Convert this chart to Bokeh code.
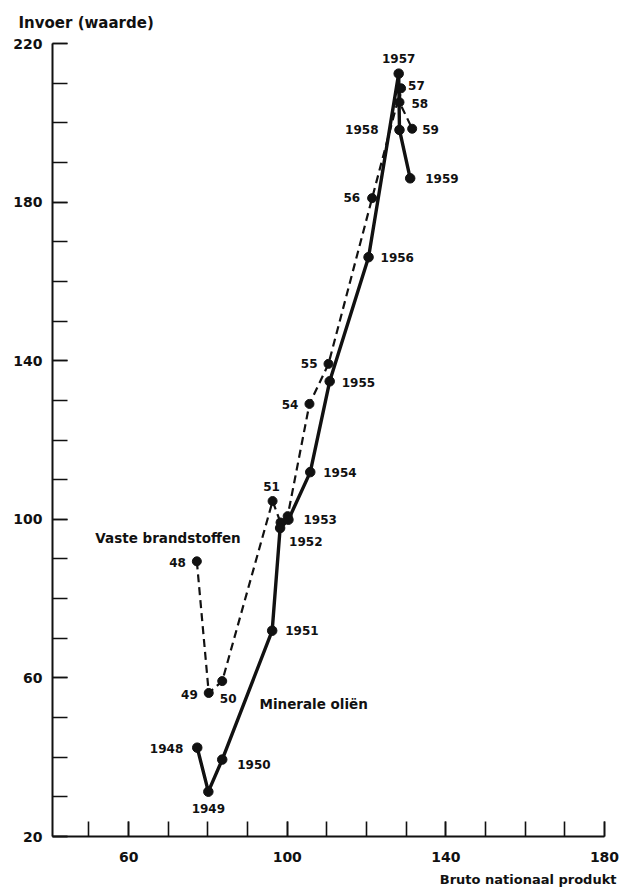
from bokeh.plotting import figure
from bokeh.models import Range1d, FixedTicker, Label, ColumnDataSource, Title
from bokeh.core.properties import value
from bokeh.embed import file_html
from bokeh.resources import INLINE

# ---------------- data ----------------
x_tick_values = [60, 100, 140, 180]
x_minor_ticks = [50, 60, 70, 80, 90, 100, 110, 120, 130, 140, 150, 160, 170, 180]
y_tick_values = [20, 60, 100, 140, 180, 220]
y_minor_ticks = [20, 30, 40, 50, 60, 70, 80, 90, 100, 110, 120, 130, 140, 150,
                 160, 170, 180, 190, 200, 210, 220]

# Minerale oliën (solid line)
oil_labels = ["1948", "1949", "1950", "1951", "1952", "1953",
              "1954", "1955", "1956", "1957", "1958", "1959"]
oil_x = [77.3, 80.1, 83.6, 96.2, 98.2, 100.3, 105.8, 110.7, 120.5, 128.1, 128.3, 131.0]
oil_y = [42.4, 31.3, 39.4, 71.9, 97.8, 99.9, 111.9, 134.8, 166.1, 212.4, 198.2, 186.0]

# Vaste brandstoffen (dashed line)
coal_labels = ["48", "49", "50", "51", "", "", "54", "55", "56", "57", "58", "59"]
coal_x = [77.2, 80.2, 83.6, 96.3, 98.3, 100.1, 105.6, 110.4, 121.4, 128.7, 128.3, 131.5]
coal_y = [89.4, 56.2, 59.2, 104.6, 99.2, 100.8, 129.1, 139.2, 181.0, 208.7, 205.2, 198.5]

y_title = "Invoer (waarde)"
x_title = "Bruto nationaal produkt"
oil_name = "Minerale oliën"
coal_name = "Vaste brandstoffen"

# ---------------- label styling (screen offsets) ----------------
oil_align = ["right", "center", "left", "left", "left", "left",
             "left", "left", "left", "center", "right", "left"]
oil_dx = [-14, 0, 15, 13, 9, 15, 13, 12, 12, 0, -21, 15]
oil_dy = [1, 17, 5, 0, 13, 0, 0, 1, 0, -15, 0, 0]

coal_align = ["right", "right", "center", "center", "left", "left",
              "right", "right", "right", "left", "left", "left"]
coal_dx = [-11, -11, 6, -1, 0, 0, -11, -11, -12, 7, 12, 10]
coal_dy = [1, 2, 17, -15, 0, 0, 1, 0, -1, -3, 1, 1]

FONT = "DejaVu Sans"
INK = "#111111"

p = figure(frame_width=552, frame_height=793,
           x_range=Range1d(40.8, 180), y_range=Range1d(20, 220),
           output_backend="svg", toolbar_location=None,
           min_border_left=52, min_border_right=18,
           min_border_top=43, min_border_bottom=2)

p.grid.visible = False
p.outline_line_color = None
p.background_fill_color = "white"
p.border_fill_color = "white"

# titles outside the frame
p.title.text = y_title
p.title.align = "left"
p.title.offset = -34
p.title.standoff = 23
p.title.text_font = FONT
p.title.text_font_style = "bold"
p.title.text_font_size = "15px"
p.title.text_color = INK

p.add_layout(Title(text=x_title, align="right", offset=-12, standoff=10,
                   text_font=FONT, text_font_style="bold", text_font_size="13px",
                   text_color=INK), "below")

for ax in (p.xaxis[0], p.yaxis[0]):
    ax.axis_line_width = 2
    ax.axis_line_color = INK
    ax.major_tick_in = 15
    ax.major_tick_out = 0
    ax.minor_tick_in = 15
    ax.minor_tick_out = 0
    ax.major_tick_line_width = 1.6
    ax.minor_tick_line_width = 1.6
    ax.major_tick_line_color = INK
    ax.minor_tick_line_color = INK
    ax.major_label_text_font = FONT
    ax.major_label_text_font_style = "bold"
    ax.major_label_text_font_size = "14px"
    ax.major_label_text_color = INK

p.xaxis.ticker = FixedTicker(ticks=x_tick_values, minor_ticks=x_minor_ticks)
p.yaxis.ticker = FixedTicker(ticks=y_tick_values, minor_ticks=y_minor_ticks)
p.xaxis.major_label_standoff = 15
p.yaxis.major_label_standoff = 10

oil = ColumnDataSource(dict(x=oil_x, y=oil_y, t=oil_labels, a=oil_align, dx=oil_dx, dy=oil_dy))
coal = ColumnDataSource(dict(x=coal_x, y=coal_y, t=coal_labels, a=coal_align, dx=coal_dx, dy=coal_dy))

p.line("x", "y", source=coal, line_width=2.2, line_color=INK, line_dash="8 5")
p.line("x", "y", source=oil, line_width=3.4, line_color=INK)
p.scatter("x", "y", source=coal, size=9, color=INK)
p.scatter("x", "y", source=oil, size=9.5, color=INK)

for src in (oil, coal):
    p.text("x", "y", text="t", source=src, x_offset="dx", y_offset="dy",
           text_align="a", text_baseline="middle",
           text_font=value(FONT), text_font_style="bold",
           text_font_size="12px", text_color=INK)

def add_label(x, y, text, size, align="left"):
    p.add_layout(Label(x=x, y=y, text=text, text_font=FONT, text_font_style="bold",
                       text_font_size=size, text_align=align, text_baseline="middle",
                       text_color=INK))

add_label(51.6, 95.2, coal_name, "13.5px")
add_label(93.0, 53.3, oil_name, "13.5px")

open("out.html", "w").write(file_html(p, INLINE))
